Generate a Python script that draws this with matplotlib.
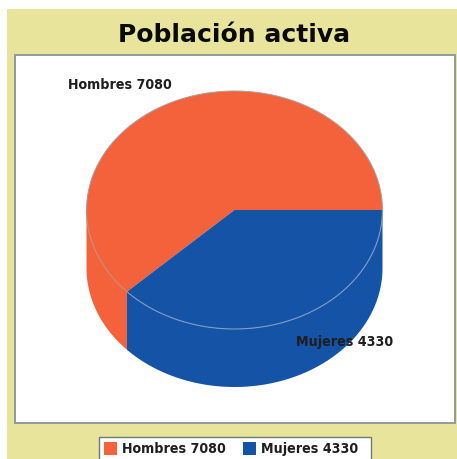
import numpy as np
import matplotlib
matplotlib.use("Agg")
import matplotlib.pyplot as plt
from matplotlib.patches import Rectangle, Polygon

title = "Población activa"
categories = ["Hombres", "Mujeres"]
values = [7080, 4330]
colors = ["#F4623C", "#1553A6"]

W, H = 457, 460
fig = plt.figure(figsize=(W / 100, H / 100), dpi=100, facecolor="white")
ax = fig.add_axes([0, 0, 1, 1])
ax.set_xlim(0, W)
ax.set_ylim(H, 0)
ax.axis("off")

ax.add_patch(Rectangle((7, 10), 450, 450, fc="#E8E49C", ec="none"))
ax.add_patch(Rectangle((15, 56), 440, 368, fc="white", ec="#8E9C96", lw=1.4))
ax.text(234, 35, title, ha="center", va="center", fontsize=18, fontweight="bold",
        family="DejaVu Sans", color="#0A0A0A")

cx, cy, rx, ry, depth = 234.5, 211, 148, 119, 58
frac = values[1] / sum(values)
split = frac * 2 * np.pi


def pts(a, b, dy=0, n=200):
    t = np.linspace(a, b, n)
    return np.column_stack([cx + rx * np.cos(t), cy + dy + ry * np.sin(t)])


# side walls
hom_wall = np.vstack([pts(split, np.pi), pts(np.pi, split, depth)])
muj_wall = np.vstack([pts(0, split), pts(split, 0, depth)])
ax.add_patch(Polygon(hom_wall, fc=colors[0], ec="none"))
ax.add_patch(Polygon(muj_wall, fc=colors[1], ec="none"))
# top faces
ax.add_patch(Polygon(np.vstack([[cx, cy], pts(split, 2 * np.pi)]), fc=colors[0], ec="none"))
ax.add_patch(Polygon(np.vstack([[cx, cy], pts(0, split)]), fc=colors[1], ec="none"))
# outlines
ax.plot(*pts(0, split).T, color="#7F9CC4", lw=0.8)
ax.plot(*pts(split, np.pi).T, color="#C98A72", lw=0.9)
ax.plot(*pts(np.pi, 2 * np.pi).T, color="#A8A0A0", lw=0.7)

label_style = dict(va="center", ha="left", fontweight="bold", family="DejaVu Sans",
                   stretch="condensed", color="#1E1E1E")
ax.text(68, 85, f"{categories[0]} {values[0]}", fontsize=10.2, **label_style)
ax.text(296, 342, f"{categories[1]} {values[1]}", fontsize=10.2, **label_style)

# legend
ax.add_patch(Rectangle((98.5, 437.5), 272, 24, fc="white", ec="#6E7A78", lw=1))
ax.add_patch(Rectangle((104, 443), 13, 13, fc=colors[0], ec="none"))
ax.add_patch(Rectangle((243, 443), 13, 13, fc=colors[1], ec="none"))
ax.text(122, 449, f"{categories[0]} {values[0]}", fontsize=10.2, **label_style)
ax.text(261, 449, f"{categories[1]} {values[1]}", fontsize=10.2, **label_style)

fig.savefig("out.png", dpi=100)
